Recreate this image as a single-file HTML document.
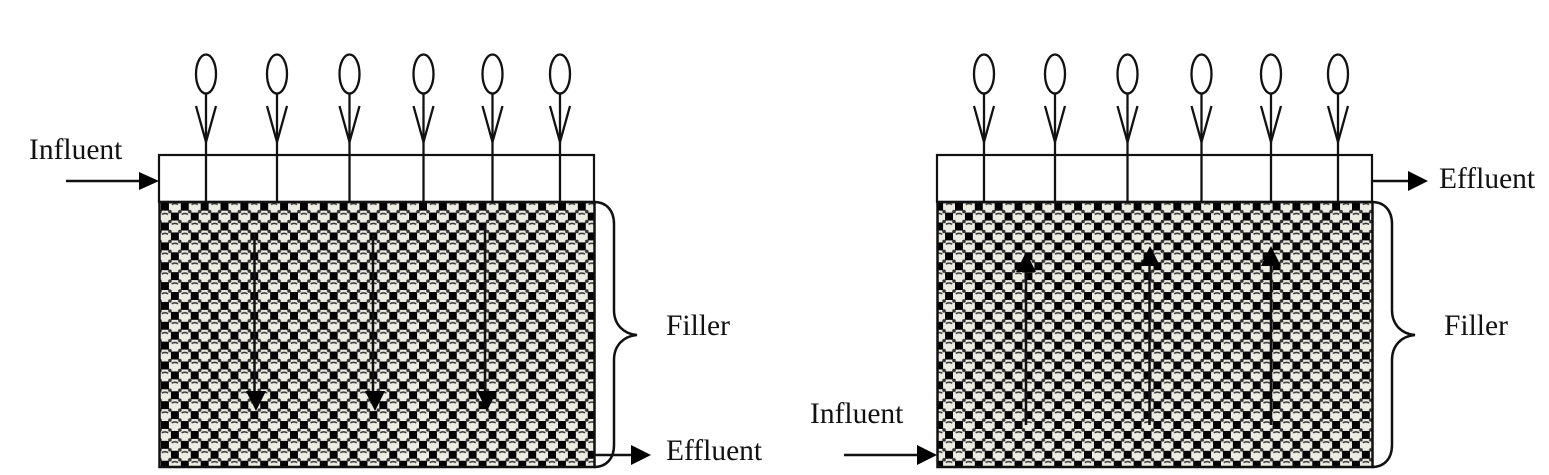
<!DOCTYPE html>
<html><head><meta charset="utf-8"><style>
html,body{margin:0;padding:0;background:#fff;width:1549px;height:475px;overflow:hidden}
svg{display:block}
text{font-family:"Liberation Serif",serif;font-size:29.5px;fill:#111}
</style></head><body>
<svg width="1549" height="475" viewBox="0 0 1549 475" xmlns="http://www.w3.org/2000/svg">
<defs>
<pattern id="p" width="20" height="20" patternUnits="userSpaceOnUse" patternTransform="translate(160 201.7) scale(.9925)">
<rect width="20" height="20" fill="#ecece2"/>
<rect x="1" y="1" width="8" height="8" fill="#000"/>
<rect x="11" y="11" width="8" height="8" fill="#000"/>
<path d="M11.800 2.800q3.200-1.800 6.400 0" stroke="#333" stroke-width="1.500" fill="none"/>
<path d="M1.800 12.800q3.200-1.800 6.400 0" stroke="#333" stroke-width="1.500" fill="none"/>
<g fill="#333">
<circle cx="10" cy="10" r="1.800"/>
<circle cx="0" cy="10" r="1.800"/>
<circle cx="20" cy="10" r="1.800"/>
<circle cx="10" cy="0" r="1.800"/>
<circle cx="10" cy="20" r="1.800"/>
<circle cx="0" cy="0" r="1.800"/>
<circle cx="20" cy="0" r="1.800"/>
<circle cx="0" cy="20" r="1.800"/>
<circle cx="20" cy="20" r="1.800"/>
</g>
</pattern>
<g id="sp" fill="none" stroke="#111" stroke-width="2.300">
<ellipse cx="0" cy="74" rx="10" ry="19.500"/>
<path d="M0 94V201"/>
<path d="M-10 106L0 142L10 106"/>
</g>
</defs>
<g fill="none" stroke="#111" stroke-width="2.200">
<rect x="159" y="155" width="435" height="47"/>
<rect x="937" y="155" width="435" height="47"/>
</g>
<rect x="159.500" y="202" width="435" height="265" fill="url(#p)" stroke="#111" stroke-width="2.500"/>
<rect x="937.500" y="202" width="435" height="265" fill="url(#p)" stroke="#111" stroke-width="2.500"/>
<use href="#sp" x="206"/><use href="#sp" x="277"/><use href="#sp" x="349.500"/><use href="#sp" x="423.500"/><use href="#sp" x="492.500"/><use href="#sp" x="560"/>
<use href="#sp" x="984"/><use href="#sp" x="1055"/><use href="#sp" x="1127.500"/><use href="#sp" x="1201.500"/><use href="#sp" x="1271"/><use href="#sp" x="1338"/>
<g fill="none" stroke="#111" stroke-width="2.500">
<path d="M594 202C606 202 614 210 614 224V310C614 325 624 334 637 335C624 336 614 345 614 360V445C614 459 606 467 594 467"/>
<path d="M1372 202C1384 202 1392 210 1392 224V310C1392 325 1402 334 1415 335C1402 336 1392 345 1392 360V445C1392 459 1384 467 1372 467"/>
<path d="M66 181H142"/>
<path d="M594 455H635"/>
<path d="M1372 181H1410"/>
<path d="M844 455H920"/>
<path d="M254.500 235V392"/><path d="M373 235V392"/><path d="M485 225V392"/>
<path d="M1026 425V268"/><path d="M1149.500 425V262"/><path d="M1271 425V262"/>
</g>
<g fill="#000">
<path d="M139 172L159 181L139 190Z"/>
<path d="M631 445L651 455L631 465Z"/>
<path d="M1408 171L1428 181L1408 191Z"/>
<path d="M917 445L937 455L917 465Z"/>
<path d="M246 391L266 391L256 411Z"/>
<path d="M365 391L385 391L375 411Z"/>
<path d="M477 391L497 391L487 411Z"/>
<path d="M1016 272L1036 272L1026 252Z"/>
<path d="M1140 266L1160 266L1150 246Z"/>
<path d="M1261 266L1281 266L1271 246Z"/>
</g>
<text x="29" y="159">Influent</text>
<text x="666" y="335">Filler</text>
<text x="666" y="460">Effluent</text>
<text x="1439" y="188">Effluent</text>
<text x="1444" y="335">Filler</text>
<text x="810" y="423">Influent</text>
</svg>
</body></html>
